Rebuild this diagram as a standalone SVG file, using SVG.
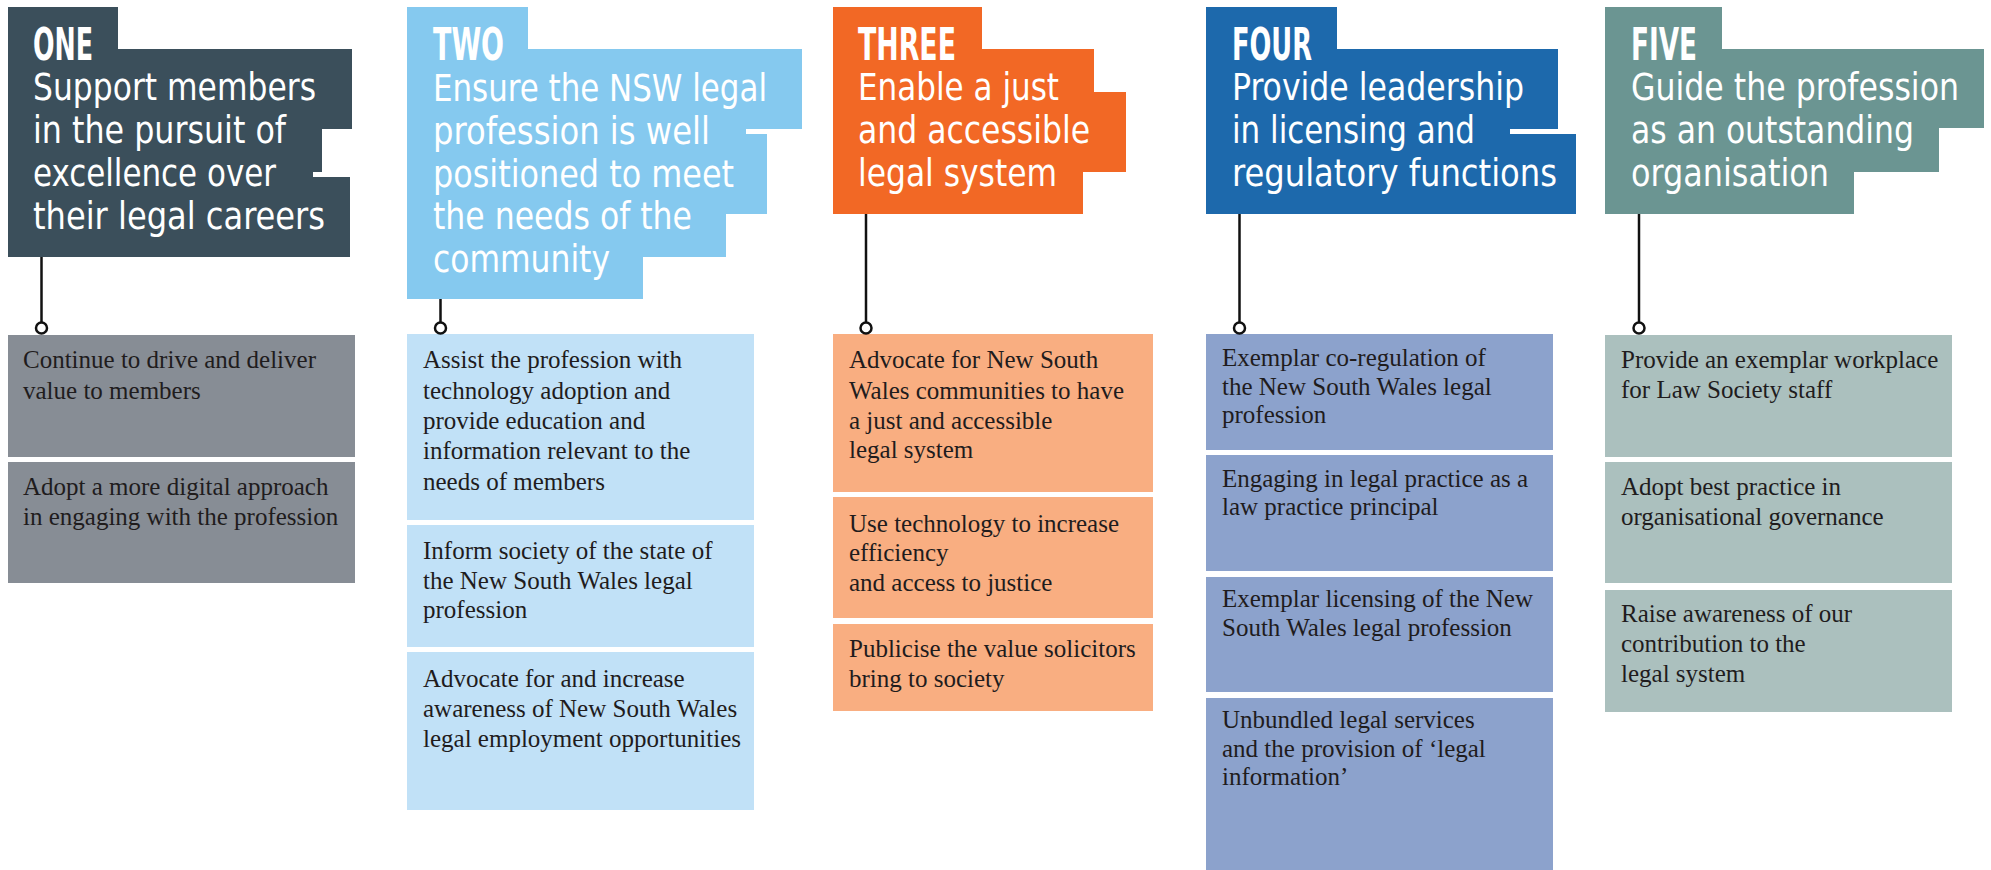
<svg xmlns="http://www.w3.org/2000/svg" width="1991" height="870" viewBox="0 0 1991 870">
<defs>
<style>
.lbl{font-family:"Liberation Sans Narrow","DejaVu Sans Condensed","Liberation Sans",sans-serif;font-weight:bold;font-size:44px;fill:#fff}
.ttl{font-family:"Liberation Sans Narrow","DejaVu Sans Condensed","Liberation Sans",sans-serif;font-size:37px;fill:#fff}
.bt{font-family:"Liberation Serif","Times New Roman",serif;font-size:25px;fill:#1f1c1d}
.conn line{stroke:#111;stroke-width:2.5}
.conn circle{stroke:#111;stroke-width:2.5;fill:#fff}
.c1h{fill:#3b4f5b}.c1b{fill:#878d95}
.c2h{fill:#85c9ef}.c2b{fill:#c1e1f7}
.c3h{fill:#f26825}.c3b{fill:#f9ae81}
.c4h{fill:#1d69ac}.c4b{fill:#8ca2cc}
.c5h{fill:#6b9592}.c5b{fill:#abc0be}
</style>
</defs>
<rect width="1991" height="870" fill="#fff"/>

<g id="one">
<path class="c1h" d="M8,7 H118 V49 H352 V129 H322 V172 H313 V177 H350 V257 H8 Z"/>
<text class="lbl" x="33" y="60" textLength="60" lengthAdjust="spacingAndGlyphs">ONE</text>
<text class="ttl" x="33" y="100" textLength="283" lengthAdjust="spacingAndGlyphs">Support members</text>
<text class="ttl" x="33" y="143" textLength="253" lengthAdjust="spacingAndGlyphs">in the pursuit of</text>
<text class="ttl" x="33" y="186" textLength="243" lengthAdjust="spacingAndGlyphs">excellence over</text>
<text class="ttl" x="33" y="229" textLength="292" lengthAdjust="spacingAndGlyphs">their legal careers</text>
</g>
<g id="one-1">
<rect class="c1b" x="8" y="335" width="347" height="122"/>
<text class="bt" x="23" y="368">Continue to drive and deliver</text>
<text class="bt" x="23" y="399">value to members</text>
</g>
<g id="one-2">
<rect class="c1b" x="8" y="462" width="347" height="121"/>
<text class="bt" x="23" y="495">Adopt a more digital approach</text>
<text class="bt" x="23" y="525">in engaging with the profession</text>
</g>

<g id="two">
<path class="c2h" d="M407,7 H528 V49 H802 V129 H746 V134 H767 V214 H726 V257 H643 V299 H407 Z"/>
<text class="lbl" x="433" y="60" textLength="71" lengthAdjust="spacingAndGlyphs">TWO</text>
<text class="ttl" x="433" y="101" textLength="334" lengthAdjust="spacingAndGlyphs">Ensure the NSW legal</text>
<text class="ttl" x="433" y="144" textLength="277" lengthAdjust="spacingAndGlyphs">profession is well</text>
<text class="ttl" x="433" y="187" textLength="301" lengthAdjust="spacingAndGlyphs">positioned to meet</text>
<text class="ttl" x="433" y="229" textLength="259" lengthAdjust="spacingAndGlyphs">the needs of the</text>
<text class="ttl" x="433" y="272" textLength="177" lengthAdjust="spacingAndGlyphs">community</text>
</g>
<g id="two-1">
<rect class="c2b" x="407" y="334" width="347" height="186"/>
<text class="bt" x="423" y="368">Assist the profession with</text>
<text class="bt" x="423" y="399">technology adoption and</text>
<text class="bt" x="423" y="429">provide education and</text>
<text class="bt" x="423" y="459">information relevant to the</text>
<text class="bt" x="423" y="490">needs of members</text>
</g>
<g id="two-2">
<rect class="c2b" x="407" y="525" width="347" height="122"/>
<text class="bt" x="423" y="559">Inform society of the state of</text>
<text class="bt" x="423" y="589">the New South Wales legal</text>
<text class="bt" x="423" y="618">profession</text>
</g>
<g id="two-3">
<rect class="c2b" x="407" y="652" width="347" height="158"/>
<text class="bt" x="423" y="687">Advocate for and increase</text>
<text class="bt" x="423" y="717">awareness of New South Wales</text>
<text class="bt" x="423" y="747">legal employment opportunities</text>
</g>

<g id="three">
<path class="c3h" d="M833,7 H982 V49 H1094 V92 H1126 V172 H1083 V214 H833 Z"/>
<text class="lbl" x="858" y="60" textLength="98" lengthAdjust="spacingAndGlyphs">THREE</text>
<text class="ttl" x="858" y="100" textLength="201" lengthAdjust="spacingAndGlyphs">Enable a just</text>
<text class="ttl" x="858" y="143" textLength="232" lengthAdjust="spacingAndGlyphs">and accessible</text>
<text class="ttl" x="858" y="186" textLength="199" lengthAdjust="spacingAndGlyphs">legal system</text>
</g>
<g id="three-1">
<rect class="c3b" x="833" y="334" width="320" height="158"/>
<text class="bt" x="849" y="368">Advocate for New South</text>
<text class="bt" x="849" y="399">Wales communities to have</text>
<text class="bt" x="849" y="429">a just and accessible</text>
<text class="bt" x="849" y="458">legal system</text>
</g>
<g id="three-2">
<rect class="c3b" x="833" y="497" width="320" height="121"/>
<text class="bt" x="849" y="532">Use technology to increase</text>
<text class="bt" x="849" y="561">efficiency</text>
<text class="bt" x="849" y="591">and access to justice</text>
</g>
<g id="three-3">
<rect class="c3b" x="833" y="624" width="320" height="87"/>
<text class="bt" x="849" y="657">Publicise the value solicitors</text>
<text class="bt" x="849" y="687">bring to society</text>
</g>

<g id="four">
<path class="c4h" d="M1206,7 H1337 V49 H1558 V129 H1510 V134 H1576 V214 H1206 Z"/>
<text class="lbl" x="1232" y="60" textLength="80" lengthAdjust="spacingAndGlyphs">FOUR</text>
<text class="ttl" x="1232" y="100" textLength="292" lengthAdjust="spacingAndGlyphs">Provide leadership</text>
<text class="ttl" x="1232" y="143" textLength="243" lengthAdjust="spacingAndGlyphs">in licensing and</text>
<text class="ttl" x="1232" y="186" textLength="325" lengthAdjust="spacingAndGlyphs">regulatory functions</text>
</g>
<g id="four-1">
<rect class="c4b" x="1206" y="334" width="347" height="116"/>
<text class="bt" x="1222" y="366">Exemplar co-regulation of</text>
<text class="bt" x="1222" y="395">the New South Wales legal</text>
<text class="bt" x="1222" y="423">profession</text>
</g>
<g id="four-2">
<rect class="c4b" x="1206" y="455" width="347" height="116"/>
<text class="bt" x="1222" y="487">Engaging in legal practice as a</text>
<text class="bt" x="1222" y="515">law practice principal</text>
</g>
<g id="four-3">
<rect class="c4b" x="1206" y="577" width="347" height="115"/>
<text class="bt" x="1222" y="607">Exemplar licensing of the New</text>
<text class="bt" x="1222" y="636">South Wales legal profession</text>
</g>
<g id="four-4">
<rect class="c4b" x="1206" y="698" width="347" height="172"/>
<text class="bt" x="1222" y="728">Unbundled legal services</text>
<text class="bt" x="1222" y="757">and the provision of ‘legal</text>
<text class="bt" x="1222" y="785">information’</text>
</g>

<g id="five">
<path class="c5h" d="M1605,7 H1722 V49 H1984 V128 H1939 V172 H1854 V214 H1605 Z"/>
<text class="lbl" x="1631" y="60" textLength="66" lengthAdjust="spacingAndGlyphs">FIVE</text>
<text class="ttl" x="1631" y="100" textLength="328" lengthAdjust="spacingAndGlyphs">Guide the profession</text>
<text class="ttl" x="1631" y="143" textLength="283" lengthAdjust="spacingAndGlyphs">as an outstanding</text>
<text class="ttl" x="1631" y="186" textLength="198" lengthAdjust="spacingAndGlyphs">organisation</text>
</g>
<g id="five-1">
<rect class="c5b" x="1605" y="335" width="347" height="122"/>
<text class="bt" x="1621" y="368">Provide an exemplar workplace</text>
<text class="bt" x="1621" y="398">for Law Society staff</text>
</g>
<g id="five-2">
<rect class="c5b" x="1605" y="462" width="347" height="121"/>
<text class="bt" x="1621" y="495">Adopt best practice in</text>
<text class="bt" x="1621" y="525">organisational governance</text>
</g>
<g id="five-3">
<rect class="c5b" x="1605" y="590" width="347" height="122"/>
<text class="bt" x="1621" y="622">Raise awareness of our</text>
<text class="bt" x="1621" y="652">contribution to the</text>
<text class="bt" x="1621" y="682">legal system</text>
</g>

<g id="connectors" class="conn">
<line x1="41.5" y1="257" x2="41.5" y2="322.5"/>
<circle cx="41.5" cy="328" r="5.5"/>
<line x1="440.5" y1="299" x2="440.5" y2="322.5"/>
<circle cx="440.5" cy="328" r="5.5"/>
<line x1="866" y1="214" x2="866" y2="322.5"/>
<circle cx="866" cy="328" r="5.5"/>
<line x1="1239.5" y1="214" x2="1239.5" y2="322.5"/>
<circle cx="1239.5" cy="328" r="5.5"/>
<line x1="1639" y1="214" x2="1639" y2="322.5"/>
<circle cx="1639" cy="328" r="5.5"/>
</g>
</svg>
